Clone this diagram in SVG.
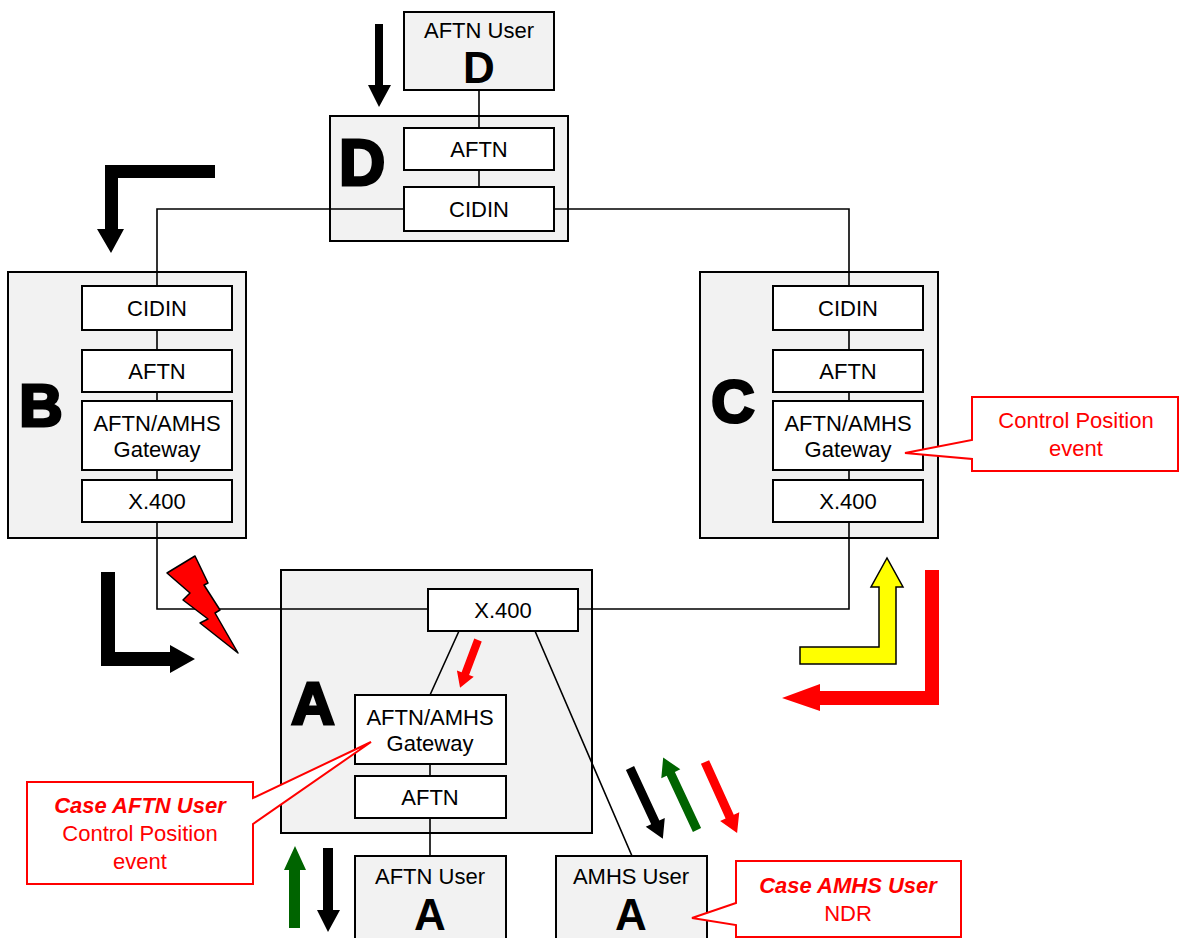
<svg xmlns="http://www.w3.org/2000/svg" width="1179" height="938" viewBox="0 0 1179 938">
<style>
.station{fill:#f2f2f2;stroke:#000;stroke-width:2}
.inner{fill:#fff;stroke:#000;stroke-width:2}
.lbl{font-family:"Liberation Sans",Arial,sans-serif;font-size:22px;fill:#000;text-anchor:middle}
.big{font-family:"Liberation Sans",Arial,sans-serif;font-weight:bold;fill:#000;stroke:#000;stroke-width:3;stroke-linejoin:miter;text-anchor:middle}
.small{font-family:"Liberation Sans",Arial,sans-serif;font-weight:900;fill:#000;text-anchor:middle}
.conn{fill:none;stroke:#000;stroke-width:1.6}
.call{fill:#fff;stroke:#ff0000;stroke-width:2}
.ctext{font-family:"Liberation Sans",Arial,sans-serif;font-size:22px;fill:#ff0000;text-anchor:middle}
.cbold{font-weight:bold;font-style:italic}
</style>
<rect width="1179" height="938" fill="#fff"/>

<!-- station containers -->
<g id="station-D"><rect class="station" x="330" y="116" width="238" height="125"/><text class="big" x="362" y="185" font-size="64">D</text></g>
<g id="station-B"><rect class="station" x="8" y="272" width="238" height="266"/><text class="big" x="41" y="426" font-size="60">B</text></g>
<g id="station-C"><rect class="station" x="700" y="272" width="238" height="266"/><text class="big" x="733" y="422" font-size="60">C</text></g>
<g id="station-A"><rect class="station" x="281" y="570" width="311" height="263"/><text class="big" x="313" y="724" font-size="60">A</text></g>

<!-- connectors -->
<g id="connectors">
<path class="conn" d="M479,90 V128 M479,170 V187"/>
<path class="conn" d="M404,209 H157 V609 H428"/>
<path class="conn" d="M554,209 H849 V609 H578"/>
<path class="conn" d="M459,631 L430,695 M430,764 V776 M430,818 V856 M535,631 L632,856"/>
</g>

<!-- user nodes -->
<g id="user-D"><rect class="station" x="404" y="12" width="150" height="78"/><text class="lbl" x="479" y="38">AFTN User</text><text class="small" x="479" y="83" font-size="44">D</text></g>
<g id="user-AFTN-A"><rect class="station" x="355" y="856" width="151" height="90"/><text class="lbl" x="430" y="884">AFTN User</text><text class="small" x="430" y="930" font-size="44">A</text></g>
<g id="user-AMHS-A"><rect class="station" x="556" y="856" width="151" height="90"/><text class="lbl" x="631" y="884">AMHS User</text><text class="small" x="631" y="930" font-size="44">A</text></g>

<!-- D inner -->
<g id="D-aftn"><rect class="inner" x="404" y="128" width="150" height="42"/><text class="lbl" x="479" y="157">AFTN</text></g>
<g id="D-cidin"><rect class="inner" x="404" y="187" width="150" height="44"/><text class="lbl" x="479" y="217">CIDIN</text></g>

<!-- B inner -->
<g id="B-cidin"><rect class="inner" x="82" y="286" width="150" height="44"/><text class="lbl" x="157" y="316">CIDIN</text></g>
<g id="B-aftn"><rect class="inner" x="82" y="350" width="150" height="42"/><text class="lbl" x="157" y="379">AFTN</text></g>
<g id="B-gw"><rect class="inner" x="82" y="401" width="150" height="69"/><text class="lbl" x="157" y="431">AFTN/AMHS</text><text class="lbl" x="157" y="457">Gateway</text></g>
<g id="B-x400"><rect class="inner" x="82" y="480" width="150" height="42"/><text class="lbl" x="157" y="509">X.400</text></g>

<!-- C inner -->
<g id="C-cidin"><rect class="inner" x="773" y="286" width="150" height="44"/><text class="lbl" x="848" y="316">CIDIN</text></g>
<g id="C-aftn"><rect class="inner" x="773" y="350" width="150" height="42"/><text class="lbl" x="848" y="379">AFTN</text></g>
<g id="C-gw"><rect class="inner" x="773" y="401" width="150" height="69"/><text class="lbl" x="848" y="431">AFTN/AMHS</text><text class="lbl" x="848" y="457">Gateway</text></g>
<g id="C-x400"><rect class="inner" x="773" y="480" width="150" height="42"/><text class="lbl" x="848" y="509">X.400</text></g>

<!-- A inner -->
<g id="A-x400"><rect class="inner" x="428" y="589" width="150" height="42"/><text class="lbl" x="503" y="618">X.400</text></g>
<g id="A-gw"><rect class="inner" x="355" y="695" width="151" height="69"/><text class="lbl" x="430" y="725">AFTN/AMHS</text><text class="lbl" x="430" y="751">Gateway</text></g>
<g id="A-aftn"><rect class="inner" x="355" y="776" width="151" height="42"/><text class="lbl" x="430" y="805">AFTN</text></g>

<!-- flow arrows -->
<g id="arrows">
<polygon fill="#000" points="375,24 383,24 383,85 391,85 379,107 368,85 375,85"/>
<polygon fill="#000" points="215,165 105,165 105,229 97,229 111,253 124,229 118,229 118,178 215,178"/>
<polygon fill="#000" points="101,572 115,572 115,652 170,652 170,645 195,659 170,673 170,666 101,666"/>
<polygon fill="#ffff00" stroke="#000" stroke-width="1.5" points="800,647 879,647 879,587 871,587 887,558 903,587 896,587 896,664 800,664"/>
<polygon fill="#ff0000" points="925,570 939,570 939,705 820,705 820,711 782,698 820,684 820,691 925,691"/>
<polygon fill="#006400" points="289,928 300,928 300,870 306,870 295,846 284,870 289,870"/>
<polygon fill="#000" points="323,848 333,848 333,910 340,910 328,932 317,910 323,910"/>
<polygon fill="#000" transform="translate(630,768) rotate(65.1)" points="0,-4.5 60,-4.5 60,-10.5 78,0 60,10.5 60,4.5 0,4.5"/>
<polygon fill="#006400" transform="translate(697,830) rotate(245)" points="0,-4.5 62,-4.5 62,-10.5 80,0 62,10.5 62,4.5 0,4.5"/>
<polygon fill="#ff0000" transform="translate(705,762) rotate(65.7)" points="0,-4.5 60,-4.5 60,-10.5 78,0 60,10.5 60,4.5 0,4.5"/>
<polygon fill="#ff0000" transform="translate(478,640) rotate(110.6)" points="0,-4 36,-4 36,-9 51,0 36,9 36,4 0,4"/>
<polygon fill="#ff0000" stroke="#000" stroke-width="1.5" stroke-linejoin="round" points="167,573 195,556 208,583 204,585 220,610 215,613 238,653 200,623 208,619 183,600 190,593"/>
</g>

<!-- callouts -->
<g id="callout-C">
<path class="call" d="M972,397 H1178 V471 H972 V459 L905,453 L972,440 Z"/>
<text class="ctext" x="1076" y="428">Control Position</text>
<text class="ctext" x="1076" y="456">event</text>
</g>
<g id="callout-AFTN">
<path class="call" d="M27,782 H253 V798 L371,742 L253,824 V884 H27 Z"/>
<text class="ctext cbold" x="140" y="813">Case AFTN User</text>
<text class="ctext" x="140" y="841">Control Position</text>
<text class="ctext" x="140" y="869">event</text>
</g>
<g id="callout-AMHS">
<path class="call" d="M736,861 H961 V937 H736 V925 L692,918 L736,903 Z"/>
<text class="ctext cbold" x="848" y="893">Case AMHS User</text>
<text class="ctext" x="848" y="921">NDR</text>
</g>
</svg>
